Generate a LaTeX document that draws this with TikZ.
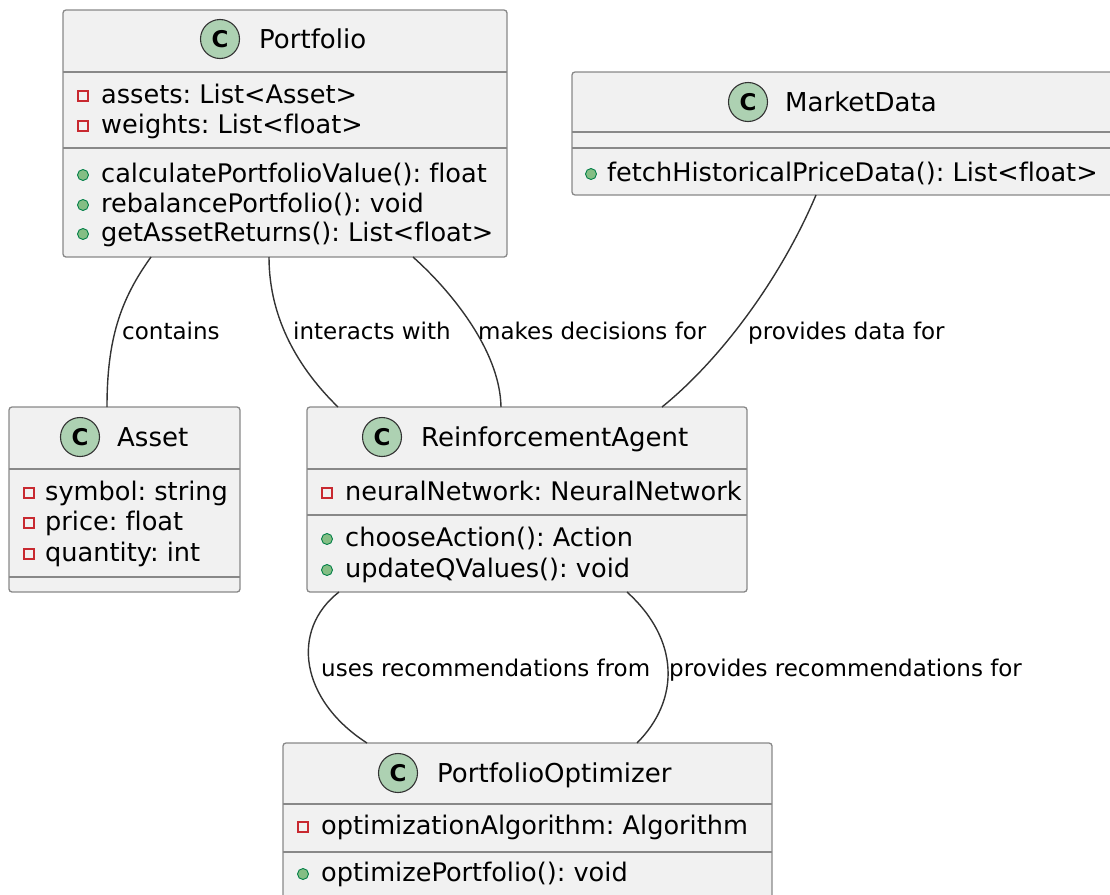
\documentclass[tikz,border=0pt]{standalone}
\usepackage{fontspec}
\setmainfont{DejaVu Sans}[Ligatures=NoCommon]
\usetikzlibrary{calc}
\definecolor{boxfill}{HTML}{F1F1F1}
\definecolor{boxline}{HTML}{888888}
\definecolor{circfill}{HTML}{ADD1B2}
\definecolor{circline}{HTML}{333333}
\definecolor{privred}{HTML}{C82930}
\definecolor{pubfill}{HTML}{84BE84}
\definecolor{pubdark}{HTML}{038048}
\definecolor{connc}{HTML}{333333}
\frenchspacing
\tikzset{
  classbox/.style={draw=boxline, fill=boxfill, line width=1.3pt, rounded corners=3pt, inner sep=0pt, outer sep=0pt, anchor=north west},
  divider/.style={draw=boxline, line width=1.3pt},
  ccircle/.style={circle, draw=circline, fill=circfill, line width=1.1pt, minimum size=39pt, inner sep=0pt, font=\bfseries\fontsize{23}{23}\selectfont},
  cname/.style={anchor=base west, inner sep=0pt, font=\fontsize{26}{30}\selectfont},
  mtext/.style={anchor=base west, inner sep=0pt, font=\fontsize{25.6}{30}\selectfont},
  privm/.style={rectangle, draw=privred, line width=1.1pt, minimum size=10pt, inner sep=0pt},
  pubm/.style={circle, draw=pubdark, fill=pubfill, line width=0.9pt, minimum size=11pt, inner sep=0pt},
  conn/.style={draw=connc, line width=1.4pt},
  lbl/.style={anchor=base west, inner sep=0pt, font=\fontsize{23}{27}\selectfont},
}
% name, marker x, row centre y, text x, text
\newcommand\ufield[5]{%
  \node[privm] (#1m) at (#2,#3) {};
  \node[mtext] (#1) at (#4,#3+7) {#5};}
\newcommand\umethod[5]{%
  \node[pubm] (#1m) at (#2,#3) {};
  \node[mtext] (#1) at (#4,#3+7) {#5};}
% name, circle x, circle y, name x, text
\newcommand\uhead[5]{%
  \node[ccircle] (#1c) at (#2,#3) {C};
  \node[cname] (#1n) at (#4,#3+9.5) {#5};}
\begin{document}
\begin{tikzpicture}[x=1pt,y=-1pt]
\useasboundingbox (0,0) rectangle (1110,894);
\clip (0,0) rectangle (1110,894);

% ---------- Portfolio ----------
\node[classbox, minimum width=444pt, minimum height=247pt] (pf) at (63,10) {};
\draw[divider] ($(pf.north west)+(0,62)$) -- ($(pf.north east)+(0,62)$);
\draw[divider] ($(pf.north west)+(0,138)$) -- ($(pf.north east)+(0,138)$);
\uhead{pfh}{220}{39}{259}{Portfolio}
\ufield{pf1}{83}{96}{101}{assets: List<Asset>}
\ufield{pf2}{83}{126}{101}{weights: List<float>}
\umethod{pf3}{83}{175}{101}{calculatePortfolioValue(): float}
\umethod{pf4}{83}{205}{101}{rebalancePortfolio(): void}
\umethod{pf5}{83}{234}{101}{getAssetReturns(): List<float>}

% ---------- MarketData ----------
\node[classbox, minimum width=545pt, minimum height=123pt] (md) at (572,72) {};
\draw[divider] ($(md.north west)+(0,60)$) -- ($(md.north east)+(0,60)$);
\draw[divider] ($(md.north west)+(0,76)$) -- ($(md.north east)+(0,76)$);
\uhead{mdh}{748}{102}{785}{MarketData}
\umethod{md1}{591}{174}{607}{fetchHistoricalPriceData(): List<float>}

% ---------- Asset ----------
\node[classbox, minimum width=231pt, minimum height=185pt] (as) at (9,407) {};
\draw[divider] ($(as.north west)+(0,62)$) -- ($(as.north east)+(0,62)$);
\draw[divider] ($(as.north west)+(0,170)$) -- ($(as.north east)+(0,170)$);
\uhead{ash}{80}{437}{117}{Asset}
\ufield{as1}{29}{493}{45}{symbol: string}
\ufield{as2}{29}{523}{45}{price: float}
\ufield{as3}{29}{554}{45}{quantity: int}

% ---------- ReinforcementAgent ----------
\node[classbox, minimum width=440pt, minimum height=185pt] (ra) at (307,407) {};
\draw[divider] ($(ra.north west)+(0,62)$) -- ($(ra.north east)+(0,62)$);
\draw[divider] ($(ra.north west)+(0,108)$) -- ($(ra.north east)+(0,108)$);
\uhead{rah}{382}{437}{421}{ReinforcementAgent}
\ufield{ra1}{327}{493}{345}{neuralNetwork: NeuralNetwork}
\umethod{ra2}{327}{539}{345}{chooseAction(): Action}
\umethod{ra3}{327}{570}{345}{updateQValues(): void}

% ---------- PortfolioOptimizer ----------
\node[classbox, minimum width=489pt, minimum height=170pt] (po) at (283,743) {};
\draw[divider] ($(po.north west)+(0,61)$) -- ($(po.north east)+(0,61)$);
\draw[divider] ($(po.north west)+(0,109)$) -- ($(po.north east)+(0,109)$);
\uhead{poh}{398}{773}{437}{PortfolioOptimizer}
\ufield{po1}{303}{827}{321}{optimizationAlgorithm: Algorithm}
\umethod{po2}{303}{874}{321}{optimizePortfolio(): void}

% ---------- connectors ----------
\draw[conn] ($(pf.south west)+(88,0)$) .. controls (120,300) and (107,340) .. ($(as.north west)+(98,0)$);
\draw[conn] ($(pf.south west)+(206,0)$) .. controls (269,320) and (300,370) .. ($(ra.north west)+(31,0)$);
\draw[conn] ($(pf.south west)+(350,0)$) .. controls (450,290) and (500,350) .. ($(ra.north west)+(194,0)$);
\draw[conn] ($(md.south west)+(244,0)$) .. controls (780,280) and (720,360) .. ($(ra.north west)+(355,0)$);
\draw[conn] ($(ra.south west)+(32,0)$) .. controls (290,630) and (300,700) .. ($(po.north west)+(84,0)$);
\draw[conn] ($(ra.south west)+(320,0)$) .. controls (680,640) and (680,700) .. ($(po.north west)+(354,0)$);

% ---------- labels ----------
\node[lbl] (l1) at (122,339) {contains};
\node[lbl] (l2) at (293,339) {interacts with};
\node[lbl] (l3) at (478,339) {makes decisions for};
\node[lbl] (l4) at (748,339) {provides data for};
\node[lbl] (l5) at (321,676) {uses recommendations from};
\node[lbl] (l6) at (669,676) {provides recommendations for};
\end{tikzpicture}
\end{document}
